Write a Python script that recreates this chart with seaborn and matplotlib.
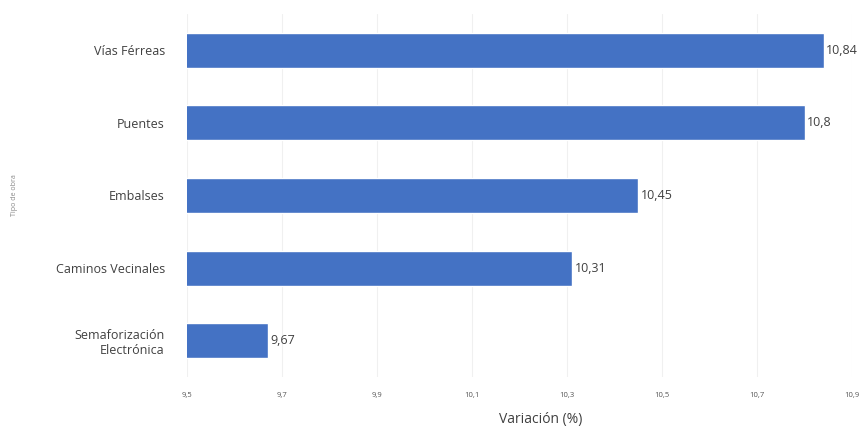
import matplotlib
matplotlib.use("Agg")
import matplotlib.pyplot as plt
import seaborn as sns
import pandas as pd

# ============================================================
# DATOS
# ============================================================
categorias = ["Vías Férreas", "Puentes", "Embalses", "Caminos Vecinales",
              "Semaforización\nElectrónica"]
valores = [10.84, 10.8, 10.45, 10.31, 9.67]
ticks = [9.5, 9.7, 9.9, 10.1, 10.3, 10.5, 10.7, 10.9]

df = pd.DataFrame({"obra": categorias, "variacion": valores})

# ============================================================
# GRAFICO
# ============================================================
sns.set_style("white")
plt.rcParams["font.family"] = ["Open Sans", "DejaVu Sans"]

fig = plt.figure(figsize=(8.67, 4.32), dpi=100)
ax = fig.add_axes([0.2157, 0.127, 0.767, 0.841])

sns.barplot(data=df, x="variacion", y="obra", color="#4472C4",
            width=0.48, saturation=1, ax=ax)

ax.set_xlim(9.5, 10.9)
ax.set_xticks(ticks)
ax.set_xticklabels([f"{t:.1f}".replace(".", ",") for t in ticks],
                   fontsize=5.5, color="#555555")
ax.tick_params(axis="x", length=0, pad=11)
ax.tick_params(axis="y", length=0, pad=16, labelsize=9, labelcolor="#404040")
ax.grid(axis="x", color="#f0f0f0", linewidth=0.8)
ax.set_axisbelow(True)
for s in ax.spines.values():
    s.set_visible(False)

for i, v in enumerate(valores):
    txt = f"{v:g}".replace(".", ",")
    ax.text(v + 0.006, i, txt, va="center", ha="left", fontsize=9,
            color="#404040")

ax.set_xlabel("Variación (%)", fontsize=10, color="#404040")
ax.xaxis.set_label_coords(0.532, -0.095)
ax.set_ylabel("Tipo de obra", fontsize=5, color="#888888")
ax.yaxis.set_label_coords(-0.254, 0.5)

plt.savefig("out.png", dpi=100)
plt.close()
